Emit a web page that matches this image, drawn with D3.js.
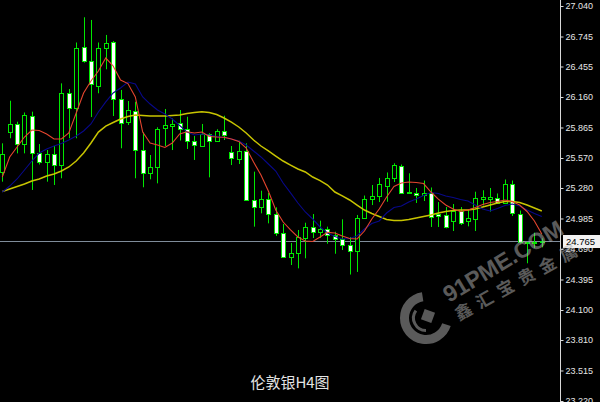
<!DOCTYPE html>
<html><head><meta charset="utf-8">
<script src="https://cdn.jsdelivr.net/npm/d3@7"></script>
<style>html,body{margin:0;padding:0;background:#000;overflow:hidden}svg{display:block}</style>
</head><body>
<script>
// ---- data (London silver, H4 bars) ----
const openP = [25.432, 25.824, 25.896, 25.702, 25.976, 25.621, 25.534, 25.606, 25.502, 26.202,
26.049, 26.641, 26.511, 26.269, 26.631, 26.695, 26.138, 25.915, 26.025, 25.647,
25.428, 25.486, 25.857, 25.877, 25.906, 25.850, 25.737, 25.689, 25.799, 25.737,
25.834, 25.631, 25.557, 25.638, 25.164, 25.093, 25.173, 25.026, 24.842, 24.615,
24.648, 24.796, 24.898, 24.859, 24.880, 24.822, 24.790, 24.729, 24.673, 24.990,
25.171, 25.207, 25.304, 25.374, 25.497, 25.246, 25.229, 25.212, 25.234, 25.033,
25.019, 24.958, 25.057, 24.958, 24.983, 25.178, 25.178, 25.180, 25.135, 25.316,
25.028, 24.750, 24.751, 24.758];
const highP = [25.712, 26.124, 25.921, 26.010, 26.018, 25.705, 25.647, 25.686, 26.292, 26.237,
26.687, 26.931, 26.905, 26.687, 26.760, 26.701, 26.228, 26.121, 26.114, 25.819,
25.599, 25.867, 26.044, 25.952, 26.034, 25.969, 25.783, 25.899, 25.809, 25.848,
25.979, 25.686, 25.737, 25.712, 25.438, 25.254, 25.232, 25.093, 24.932, 24.748,
24.874, 24.944, 25.028, 24.964, 24.906, 24.857, 24.977, 24.806, 25.019, 25.207,
25.309, 25.377, 25.430, 25.519, 25.507, 25.422, 25.280, 25.352, 25.285, 25.144,
25.096, 25.125, 25.096, 25.070, 25.244, 25.258, 25.280, 25.227, 25.362, 25.352,
25.062, 24.758, 24.848, 24.793];
const lowP = [25.341, 25.761, 25.615, 25.615, 25.261, 25.507, 25.341, 25.309, 25.374, 25.761,
25.761, 26.492, 25.966, 26.196, 26.428, 25.976, 25.664, 25.889, 25.374, 25.287,
25.364, 25.325, 25.686, 25.647, 25.739, 25.657, 25.551, 25.679, 25.383, 25.728,
25.744, 25.502, 25.512, 25.157, 24.906, 25.035, 24.938, 24.816, 24.610, 24.535,
24.503, 24.600, 24.796, 24.796, 24.741, 24.644, 24.680, 24.443, 24.468, 24.980,
25.115, 25.144, 25.147, 25.338, 25.227, 25.222, 25.135, 25.154, 24.903, 24.903,
24.890, 24.864, 24.922, 24.909, 24.864, 25.111, 25.051, 25.125, 25.125, 25.009,
24.743, 24.552, 24.700, 24.706];
const closeP = [25.609, 25.896, 25.702, 25.986, 25.621, 25.534, 25.606, 25.502, 26.196, 26.051,
26.631, 26.511, 26.286, 26.631, 26.685, 26.138, 25.906, 26.034, 25.647, 25.422,
25.486, 25.850, 25.889, 25.899, 25.846, 25.737, 25.691, 25.799, 25.737, 25.834,
25.795, 25.567, 25.641, 25.164, 25.093, 25.176, 25.024, 24.842, 24.617, 24.648,
24.803, 24.903, 24.851, 24.880, 24.825, 24.790, 24.724, 24.673, 24.990, 25.173,
25.207, 25.314, 25.374, 25.502, 25.234, 25.227, 25.212, 25.232, 25.004, 25.012,
24.900, 25.053, 24.946, 24.987, 25.183, 25.190, 25.190, 25.138, 25.319, 25.041,
24.753, 24.755, 24.758, 24.765];
// moving averages
const maFast = [25.386, 25.580, 25.676, 25.773, 25.841, 25.836, 25.802, 25.754, 25.754, 25.812,
26.005, 26.199, 26.315, 26.411, 26.537, 26.460, 26.324, 26.290, 26.160, 25.821,
25.715, 25.696, 25.672, 25.715, 25.802, 25.824, 25.812, 25.821, 25.778, 25.773,
25.770, 25.754, 25.730, 25.667, 25.531, 25.406, 25.251, 25.067, 24.951, 24.874,
24.806, 24.767, 24.762, 24.806, 24.851, 24.845, 24.816, 24.791, 24.787, 24.864,
24.980, 25.077, 25.193, 25.294, 25.328, 25.338, 25.333, 25.323, 25.241, 25.173,
25.115, 25.077, 25.053, 25.067, 25.091, 25.120, 25.140, 25.149, 25.164, 25.149,
25.115, 25.053, 24.961, 24.835];
const maMid = [25.241, 25.299, 25.367, 25.454, 25.541, 25.618, 25.657, 25.686, 25.710, 25.744,
25.783, 25.831, 25.899, 26.015, 26.112, 26.199, 26.247, 26.305, 26.286, 26.160,
26.092, 26.034, 25.996, 25.947, 25.884, 25.821, 25.792, 25.802, 25.792, 25.778,
25.768, 25.754, 25.734, 25.696, 25.638, 25.580, 25.512, 25.444, 25.328, 25.232,
25.135, 25.048, 24.980, 24.903, 24.845, 24.811, 24.787, 24.791, 24.816, 24.883,
24.937, 24.961, 25.038, 25.091, 25.106, 25.144, 25.173, 25.207, 25.236, 25.227,
25.203, 25.188, 25.169, 25.154, 25.115, 25.077, 25.057, 25.082, 25.111, 25.125,
25.106, 25.067, 25.033, 25.004];
const maSlow = [25.246, 25.270, 25.294, 25.319, 25.348, 25.367, 25.396, 25.415, 25.444, 25.483,
25.541, 25.618, 25.715, 25.821, 25.879, 25.913, 25.947, 25.971, 25.986, 25.981,
25.976, 25.976, 25.976, 25.981, 25.986, 26.000, 26.010, 26.018, 26.010, 25.991,
25.957, 25.918, 25.870, 25.812, 25.744, 25.686, 25.638, 25.589, 25.541, 25.502,
25.464, 25.435, 25.386, 25.352, 25.309, 25.241, 25.203, 25.164, 25.115, 25.067,
25.033, 25.004, 24.975, 24.966, 24.966, 24.975, 24.990, 25.004, 25.019, 25.038,
25.053, 25.062, 25.067, 25.067, 25.077, 25.096, 25.115, 25.135, 25.149, 25.149,
25.140, 25.115, 25.086, 25.057];
const tickValues = [27.040, 26.745, 26.455, 26.160, 25.865, 25.570, 25.280, 24.985, 24.690, 24.395, 24.100, 23.810, 23.515, 23.220];
const currentPrice = 24.765;
const chartTitle = "伦敦银H4图";
const wmLatin = "91PME.COM";
const wmCJK = "鑫汇宝贵金属";

// ---- drawing ----
const W = 600, H = 402, axisX = 560;
const svg = d3.select("body").append("svg").attr("width", W).attr("height", H);
svg.append("rect").attr("width", W).attr("height", H).attr("fill", "#000");

const idx = d3.range(closeP.length);
const x = d3.scaleBand().domain(idx).range([-1.4, 545.5]).padding(0);
const y = d3.scaleLinear().domain([23.220, 27.040]).range([401, 6]);
const cx = i => Math.round(x(i) + x.bandwidth() / 2);

svg.append("defs").append("clipPath").attr("id", "plot")
  .append("rect").attr("x", 0).attr("y", 0).attr("width", axisX).attr("height", H);
const plot = svg.append("g").attr("clip-path", "url(#plot)");

// current price line
plot.append("line")
  .attr("x1", 0).attr("x2", axisX)
  .attr("y1", Math.round(y(currentPrice)) + 0.5).attr("y2", Math.round(y(currentPrice)) + 0.5)
  .attr("stroke", "#7f8c9a").attr("stroke-width", 1);

const GREEN = "#00e800";
const candles = plot.append("g");
idx.forEach(i => {
  const o = openP[i], c = closeP[i], h = highP[i], l = lowP[i];
  const xc = cx(i);
  candles.append("line")
    .attr("x1", xc + 0.5).attr("x2", xc + 0.5)
    .attr("y1", y(h)).attr("y2", y(l))
    .attr("stroke", GREEN).attr("stroke-width", 1);
  const top = Math.round(y(Math.max(o, c))) + 0.5;
  const bot = Math.round(y(Math.min(o, c))) + 0.5;
  if (bot - top < 1) {
    candles.append("line")
      .attr("x1", xc - 2).attr("x2", xc + 3)
      .attr("y1", top).attr("y2", top)
      .attr("stroke", GREEN).attr("stroke-width", 1);
  } else {
    candles.append("rect")
      .attr("x", xc - 1.5).attr("width", 4)
      .attr("y", top).attr("height", bot - top)
      .attr("fill", c < o ? "#ffffff" : "#000000")
      .attr("stroke", GREEN).attr("stroke-width", 1);
  }
});

const lineGen = arr => d3.line().x((d, i) => x(i) + x.bandwidth() / 2).y(d => y(d))(arr);
plot.append("path").attr("d", lineGen(maSlow)).attr("fill", "none").attr("stroke", "#c8c400").attr("stroke-width", 1.5);
plot.append("path").attr("d", lineGen(maMid)).attr("fill", "none").attr("stroke", "#08088a").attr("stroke-width", 1.1);
plot.append("path").attr("d", lineGen(maFast)).attr("fill", "none").attr("stroke", "#e4452e").attr("stroke-width", 1.1);

// price axis
svg.append("line").attr("x1", axisX + 0.5).attr("x2", axisX + 0.5).attr("y1", 0).attr("y2", H)
  .attr("stroke", "#d8d8d8").attr("stroke-width", 1);
const axis = d3.axisRight(y).tickValues(tickValues).tickFormat(d3.format(".3f"))
  .tickSizeInner(3).tickSizeOuter(0).tickPadding(2);
const ag = svg.append("g").attr("transform", `translate(${axisX + 0.5},0)`).call(axis);
ag.select(".domain").remove();
ag.selectAll(".tick line").attr("stroke", "#d8d8d8");
ag.selectAll(".tick text").attr("fill", "#e6e6e6")
  .style("font-family", "'Liberation Sans', Arial, sans-serif").style("font-size", "9px");

// current price label
const cpY = y(currentPrice);
svg.append("rect").attr("x", axisX + 3).attr("y", Math.round(cpY) - 6).attr("width", 40).attr("height", 13)
  .attr("fill", "#f2f2f2");
svg.append("text").attr("x", axisX + 6).attr("y", cpY).attr("dy", "0.35em")
  .attr("fill", "#000").style("font-family", "'Liberation Sans', Arial, sans-serif").style("font-size", "9.5px")
  .text(d3.format(".3f")(currentPrice));

// title
svg.append("text").attr("x", 290).attr("y", 388).attr("text-anchor", "middle")
  .attr("fill", "#e4e4e4").style("font-family", "'Noto Sans CJK SC', sans-serif").style("font-size", "15px")
  .text(chartTitle);

// watermark
const wm = svg.append("g").attr("opacity", 0.5);
const arc = d3.arc();
wm.append("path").attr("transform", "translate(426,318)")
  .attr("d", arc({innerRadius: 17, outerRadius: 26, startAngle: 0.6 * Math.PI, endAngle: 1.95 * Math.PI}))
  .attr("fill", "#b4b4b4");
wm.append("path").attr("transform", "translate(426,318)")
  .attr("d", arc({innerRadius: 11, outerRadius: 14, startAngle: 1.0 * Math.PI, endAngle: 1.7 * Math.PI}))
  .attr("fill", "#b4b4b4");
wm.append("rect").attr("x", -5.5).attr("y", -5.5).attr("width", 11).attr("height", 11)
  .attr("transform", "translate(428,316) rotate(20)").attr("fill", "#b4b4b4");
wm.append("text").attr("transform", "translate(449,303) rotate(-31)")
  .attr("fill", "#b4b4b4").style("font-family", "'Liberation Sans', Arial, sans-serif")
  .style("font-size", "23px").style("font-weight", "bold").text(wmLatin);
wm.append("text").attr("transform", "translate(459,321) rotate(-29)")
  .attr("fill", "#b4b4b4").style("font-family", "'Noto Sans CJK SC', sans-serif")
  .style("font-size", "17px").style("font-weight", "bold").style("letter-spacing", "7px").text(wmCJK);
</script>
</body></html>
